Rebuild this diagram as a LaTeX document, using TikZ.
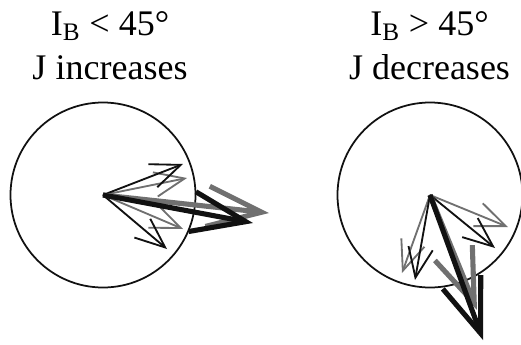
\documentclass[tikz,border=0pt]{standalone}
\usepackage{fontspec}
\setmainfont{Liberation Serif}
\usetikzlibrary{arrows.meta,positioning}
\definecolor{vecgray}{HTML}{707070}
\definecolor{vecblack}{HTML}{111111}

\begin{document}
\begin{tikzpicture}[x=0.02cm, y=-0.02cm,
  lbl/.style={font=\fontsize{20.5}{25}\selectfont, anchor=base, inner sep=0pt},
  ring/.style={draw=vecblack, line width=1pt},
  thinvec/.style={line width=1.05pt, line join=miter, -{Straight Barb[length=17pt,width=14pt]}},
  thickvec/.style={line width=2.9pt, line join=miter, -{Straight Barb[length=31pt,width=23pt]}}
]
  \useasboundingbox (0,0) rectangle (521,345);

  % Labels
  \node[lbl] (titleL) at (110,35) {I\textsubscript{B} < 45°};
  \node[lbl] (condL) at (110,79) {J increases};
  \node[lbl] (titleR) at (429.5,35) {I\textsubscript{B} > 45°};
  \node[lbl] (condR) at (429.5,79) {J decreases};

  % Circles
  \coordinate (OL) at (103,195);
  \coordinate (OR) at (430,195);
  \draw[ring] (OL) circle (92.5);
  \draw[ring] (OR) circle (92.5);

  % Tips, left
  \coordinate (L1) at (183,164);
  \coordinate (L2) at (187,178);
  \coordinate (L3) at (183,229);
  \coordinate (L4) at (167,249);
  \coordinate (L5) at (269,213);
  \coordinate (L6) at (253,223);

  % Tips, right
  \coordinate (R1) at (508,227);
  \coordinate (R2) at (495,248);
  \coordinate (R3) at (402,273);
  \coordinate (R4) at (415,280);
  \coordinate (R5) at (477,310);
  \coordinate (R6) at (483,340);

  % Vectors
  \draw[thinvec, vecgray] (OL) -- (L2);
  \draw[thinvec, vecgray] (OL) -- (L3);
  \draw[thinvec, vecblack] (OL) -- (L1);
  \draw[thinvec, vecblack] (OL) -- (L4);
  \draw[thickvec, vecgray] (OL) -- (L5);
  \draw[thickvec, vecblack] (OL) -- (L6);

  \draw[thinvec, vecgray] (OR) -- (R1);
  \draw[thinvec, vecgray] (OR) -- (R3);
  \draw[thinvec, vecblack] (OR) -- (R2);
  \draw[thinvec, vecblack] (OR) -- (R4);
  \draw[thickvec, vecgray] (OR) -- (R5);
  \draw[thickvec, vecblack] (OR) -- (R6);
\end{tikzpicture}
\end{document}
